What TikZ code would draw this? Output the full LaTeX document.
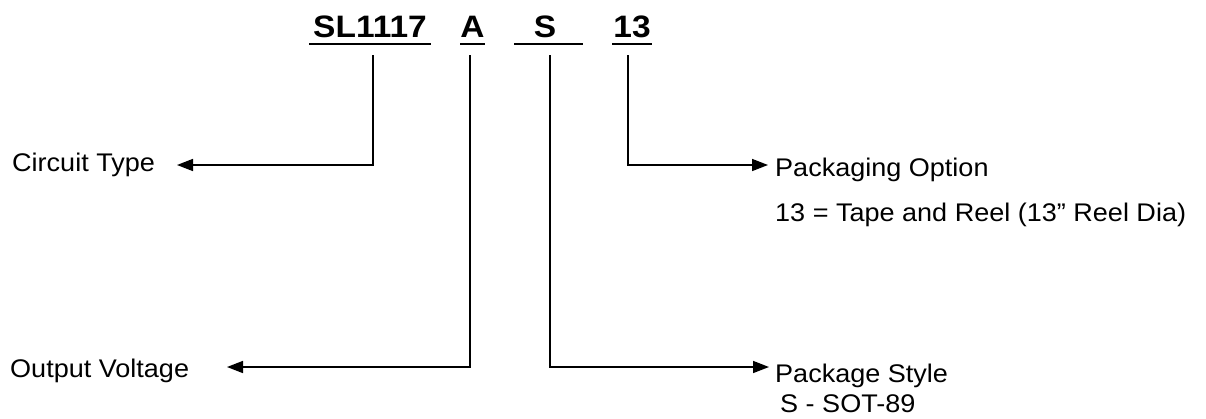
\documentclass[tikz,border=0pt]{standalone}
\usepackage{fontspec}
\setmainfont{Liberation Sans}
\usetikzlibrary{arrows.meta}
\newcommand{\hx}[1]{\scalebox{1.08}[1]{#1}}
\newcommand{\lx}[1]{\scalebox{1.06}[1]{#1}}
\begin{document}
\begin{tikzpicture}[x=1pt,y=-1pt,
  conn/.style={line width=1.6pt,-{Triangle[length=16pt,width=12pt]}},
  ul/.style={line width=2.8pt},
  hdr/.style={font=\fontsize{31}{36}\selectfont\bfseries,inner sep=0pt,anchor=base},
  lbl/.style={font=\fontsize{25.5}{30}\selectfont,inner sep=0pt,anchor=base west}]
\useasboundingbox (0,0) rectangle (1206,418);
% header part number
\node[hdr] (hSL) at (370,37) {\hx{SL1117}};
\node[hdr] (hA)  at (472.5,37) {\hx{A}};
\node[hdr] (hS)  at (545,37) {\hx{S}};
\node[hdr] (h13) at (632,37) {\hx{13}};
\draw[ul] (309,44) -- (431,44);
\draw[ul] (460,44) -- (485,44);
\draw[ul] (514,44) -- (583,44);
\draw[ul] (612,44) -- (652,44);
% connector start points
\coordinate (sSL) at (373,55);
\coordinate (sA)  at (470,55);
\coordinate (sS)  at (550,55);
\coordinate (s13) at (628,55);
% arrow tips
\coordinate (eCT) at (177,165);
\coordinate (eOV) at (227,367);
\coordinate (ePS) at (769,367);
\coordinate (ePO) at (768,165);
% labels
\node[lbl] (lCT) at (12,171) {\lx{Circuit Type}};
\node[lbl] (lOV) at (10,377) {\lx{Output Voltage}};
\node[lbl] (lPO) at (775,176) {\lx{Packaging Option}};
\node[lbl] (lPO2) at (775,221) {\lx{13 = Tape and Reel (13” Reel Dia)}};
\node[lbl] (lPS) at (775,382) {\lx{Package Style}};
\node[lbl] (lPS2) at (780,412) {\lx{S - SOT-89}};
% connectors
\draw[conn] (sSL) |- (eCT);
\draw[conn] (sA) |- (eOV);
\draw[conn] (sS) |- (ePS);
\draw[conn] (s13) |- (ePO);
\end{tikzpicture}
\end{document}
